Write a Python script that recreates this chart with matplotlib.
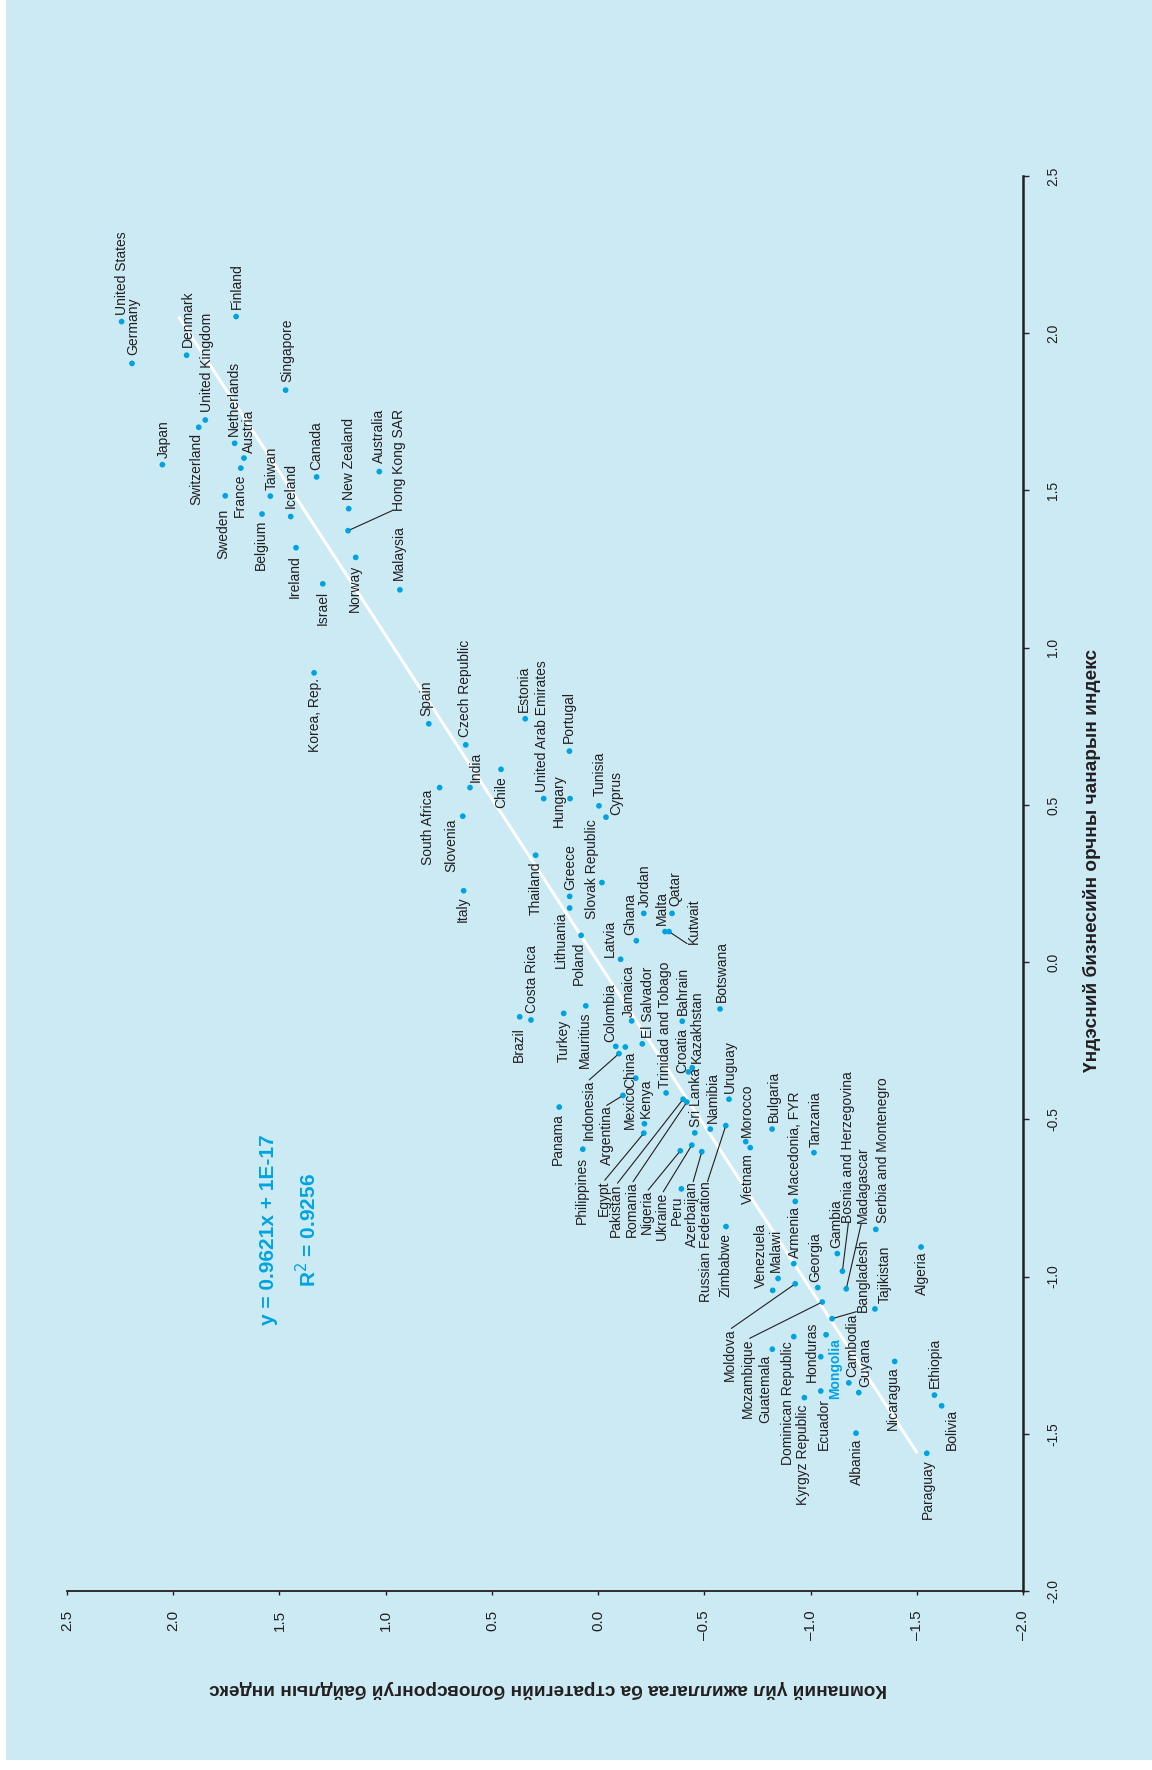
import numpy as np
import matplotlib
matplotlib.use("Agg")
import matplotlib.pyplot as plt
from matplotlib.patches import Rectangle

# ---------------- data ----------------
countries = [
    "United States", "Germany", "Denmark", "Finland", "Singapore", "United Kingdom",
    "Switzerland", "Netherlands", "Austria", "Japan", "France", "Canada", "Australia",
    "Sweden", "Taiwan", "New Zealand", "Belgium", "Iceland", "Hong Kong SAR", "Ireland",
    "Norway", "Israel", "Malaysia", "Korea, Rep.", "Spain", "Estonia", "Czech Republic",
    "Portugal", "Chile", "South Africa", "India", "United Arab Emirates", "Hungary",
    "Tunisia", "Cyprus", "Slovenia", "Thailand", "Slovak Republic", "Italy", "Greece",
    "Lithuania", "Jordan", "Qatar", "Malta", "Kutwait", "Poland", "Ghana", "Latvia",
    "Brazil", "Costa Rica", "Turkey", "Mauritius", "Jamaica", "El Salvador", "Colombia",
    "China", "Indonesia", "Bahrain", "Botswana", "Mexico", "Argentina", "Kenya",
    "Trinidad and Tobago", "Croatia", "Kazakhstan", "Pakistan", "Romania", "Sri Lanka",
    "Namibia", "Uruguay", "Russian Federation", "Egypt", "Nigeria", "Ukraine",
    "Azerbaijan", "Peru", "Morocco", "Vietnam", "Bulgaria", "Tanzania", "Macedonia, FYR",
    "Zimbabwe", "Panama", "Philippines", "Gambia", "Armenia", "Bosnia and Herzegovina",
    "Madagascar", "Bangladesh", "Tajikistan", "Serbia and Montenegro", "Algeria",
    "Georgia", "Moldova", "Mozambique", "Venezuela", "Malawi", "Dominican Republic",
    "Guatemala", "Mongolia", "Honduras", "Cambodia", "Guyana", "Ecuador",
    "Kyrgyz Republic", "Albania", "Nicaragua", "Ethiopia", "Bolivia", "Paraguay",
]

# National business environment quality index (original x axis)
business_index = [
    2.037, 1.904, 1.930, 2.053, 1.819, 1.724,
    1.701, 1.650, 1.603, 1.582, 1.571, 1.543, 1.560,
    1.483, 1.482, 1.442, 1.425, 1.417, 1.372, 1.318,
    1.287, 1.203, 1.184, 0.920, 0.758, 0.774, 0.691,
    0.671, 0.613, 0.555, 0.555, 0.520, 0.520,
    0.497, 0.461, 0.464, 0.340, 0.253, 0.227, 0.209,
    0.172, 0.155, 0.155, 0.097, 0.097, 0.085, 0.068, 0.009,
    -0.174, -0.184, -0.163, -0.139, -0.187, -0.260, -0.268,
    -0.270, -0.291, -0.188, -0.149, -0.369, -0.424, -0.514,
    -0.416, -0.349, -0.336, -0.436, -0.445, -0.543,
    -0.531, -0.436, -0.520, -0.544, -0.600, -0.582,
    -0.603, -0.721, -0.571, -0.590, -0.531, -0.606, -0.761,
    -0.841, -0.461, -0.595, -0.927, -0.959, -0.983,
    -1.039, -1.134, -1.103, -0.850, -0.906,
    -1.035, -1.023, -1.081, -1.044, -1.006, -1.191,
    -1.231, -1.185, -1.255, -1.338, -1.369, -1.364,
    -1.385, -1.498, -1.270, -1.377, -1.411, -1.562,
]

# Company operations and strategy sophistication index (original y axis)
company_index = [
    2.243, 2.194, 1.937, 1.704, 1.471, 1.849,
    1.880, 1.711, 1.667, 2.051, 1.682, 1.325, 1.030,
    1.755, 1.543, 1.174, 1.582, 1.447, 1.177, 1.422,
    1.141, 1.296, 0.933, 1.337, 0.797, 0.343, 0.623,
    0.135, 0.457, 0.746, 0.603, 0.256, 0.132,
    -0.004, -0.037, 0.637, 0.294, -0.018, 0.633, 0.134,
    0.134, -0.215, -0.348, -0.315, -0.334, 0.080, -0.180, -0.106,
    0.369, 0.316, 0.162, 0.058, -0.158, -0.208, -0.083,
    -0.128, -0.098, -0.396, -0.574, -0.177, -0.117, -0.218,
    -0.320, -0.425, -0.443, -0.400, -0.418, -0.455,
    -0.528, -0.616, -0.601, -0.215, -0.387, -0.441,
    -0.488, -0.392, -0.695, -0.716, -0.819, -1.016, -0.928,
    -0.602, 0.183, 0.072, -1.126, -0.921, -1.150,
    -1.168, -1.101, -1.303, -1.307, -1.520,
    -1.034, -0.928, -1.055, -0.822, -0.847, -0.921,
    -0.820, -1.073, -1.048, -1.180, -1.227, -1.048,
    -0.971, -1.214, -1.396, -1.583, -1.617, -1.547,
]

tick_values = [2.5, 2.0, 1.5, 1.0, 0.5, 0.0, -0.5, -1.0, -1.5, -2.0]
bottom_tick_labels = ["2.5", "2.0", "1.5", "1.0", "0.5", "0.0", "–0.5", "–1.0", "–1.5", "–2.0"]
right_tick_labels = ["2.5", "2.0", "1.5", "1.0", "0.5", "0.0", "-0.5", "-1.0", "-1.5", "-2.0"]

slope = 0.9621
intercept_text = "1E-17"
intercept = 1e-17
r_squared = 0.9256
highlight = "Mongolia"

x_label = "Үндэсний бизнесийн орчны чанарын индекс"
y_label = "Компаний үйл ажиллагаа ба стратегийн боловсронгуй байдлын индекс"

# ---------------- label placement (image pixels: dx right, dy down) ----------------
label_pos = {
    "United States": (0.6, -6.7, "left"), "Germany": (1.3, -8.3, "left"),
    "Denmark": (1, -8.6, "left"), "Finland": (0.7, -7.7, "left"),
    "United Kingdom": (2, -8.3, "left"), "Singapore": (1.6, -7.7, "left"),
    "Netherlands": (-0.7, -7.6, "left"), "Austria": (5, -5, "left"),
    "Japan": (1, -6.4, "left"), "Switzerland": (-2, 6, "right"),
    "Sweden": (-2, 13, "right"), "France": (-0.7, 5, "right"),
    "Belgium": (-1, 6, "right"), "Taiwan": (1.4, -6, "left"),
    "Iceland": (0, -8.4, "left"), "Ireland": (-1, 7.3, "right"),
    "Israel": (0, 7, "right"), "Canada": (0, -7, "left"),
    "New Zealand": (0.6, -8.7, "left"), "Norway": (-0.7, 7.7, "right"),
    "Australia": (0, -8.4, "left"), "Hong Kong SAR": (51, -20, "left"),
    "Malaysia": (-1, -9.7, "left"), "Korea, Rep.": (1, 5.6, "right"),
    "Spain": (-2, -7.7, "left"), "Czech Republic": (-0.7, -7.4, "left"),
    "Estonia": (-1.3, -7, "left"), "United Arab Emirates": (-2, -7, "left"),
    "Portugal": (-1, -7.7, "left"), "India": (6, -6, "left"),
    "Chile": (0.7, 6.7, "right"), "South Africa": (-11.4, 2.3, "right"),
    "Slovenia": (-11, 2, "right"), "Hungary": (-10.7, 2, "center"),
    "Tunisia": (0.3, -9.7, "left"), "Cyprus": (10.7, -2, "left"),
    "Thailand": (0.3, 6.4, "right"), "Greece": (0.3, -6.3, "left"),
    "Slovak Republic": (-10.3, -13.5, "center"), "Italy": (-0.4, 6, "right"),
    "Lithuania": (-8.7, 3.7, "right"), "Poland": (-2.7, 6.4, "right"),
    "Jordan": (0.6, -6.6, "left"), "Qatar": (3, -7, "left"),
    "Malta": (-3.3, -6.7, "left"), "Kutwait": (25, 12, "left"),
    "Ghana": (-6.3, -5.7, "left"), "Latvia": (-10.7, -2.6, "left"),
    "Brazil": (-0.4, 10, "right"), "Costa Rica": (0.7, -6.7, "left"),
    "Turkey": (0.3, 6.7, "right"), "Mauritius": (-0.7, 6, "right"),
    "Colombia": (-5, -4.6, "left"), "China": (4.7, 4.7, "right"),
    "Jamaica": (-2.4, -4.3, "left"), "El Salvador": (6, -5.7, "left"),
    "Indonesia": (-29.7, 26.3, "right"), "Argentina": (-16.3, 10, "right"),
    "Mexico": (-5.7, 7, "right"), "Kenya": (1.7, -5.4, "left"),
    "Trinidad and Tobago": (-1, -4.7, "left"), "Bahrain": (1, -6.7, "left"),
    "Croatia": (-6.6, 1.6, "left"), "Kazakhstan": (4.4, -4.4, "left"),
    "Botswana": (1.7, -7.3, "left"), "Sri Lanka": (1.3, -6, "left"),
    "Namibia": (2.4, -5.7, "left"), "Uruguay": (1, -6, "left"),
    "Morocco": (1.6, -5, "left"), "Bulgaria": (2, -7.3, "left"),
    "Macedonia, FYR": (-0.3, -6.3, "left"), "Tanzania": (1.7, -6, "left"),
    "Panama": (-1, 6, "right"), "Philippines": (-1, 7.4, "right"),
    "Egypt": (-40.4, 47, "right"), "Pakistan": (-67, 84, "right"),
    "Romania": (-55.3, 79.7, "right"), "Nigeria": (-33.6, 39.3, "right"),
    "Ukraine": (-30, 46.7, "right"), "Peru": (-4.6, 6.3, "right"),
    "Azerbaijan": (-10, 30, "right"), "Russian Federation": (-19.7, 56, "right"),
    "Zimbabwe": (-1, 6.6, "right"), "Vietnam": (-2, 5.6, "right"),
    "Venezuela": (-11.7, -2, "left"), "Malawi": (-2, -6.6, "left"),
    "Armenia": (1.3, -5.4, "left"), "Georgia": (-2.7, -6, "left"),
    "Gambia": (-1.3, -5.4, "left"), "Bosnia and Herzegovina": (6, -48.6, "left"),
    "Madagascar": (16.4, -65.4, "left"), "Serbia and Montenegro": (7, -6, "left"),
    "Bangladesh": (31.3, -7, "left"), "Tajikistan": (10, -5.7, "left"),
    "Algeria": (0.7, 4.7, "right"), "Moldova": (-65.3, 44.6, "right"),
    "Mozambique": (-74, 36.3, "right"), "Guatemala": (-7.3, 5.7, "right"),
    "Dominican Republic": (-5.4, 5, "right"), "Kyrgyz Republic": (-1, 7.3, "right"),
    "Honduras": (-9, -5, "center"), "Ecuador": (3.3, 7.3, "right"),
    "Mongolia": (9, 3.6, "right"), "Cambodia": (3, -5.4, "left"),
    "Guyana": (6.3, -5.4, "left"), "Albania": (0.7, 5.3, "right"),
    "Nicaragua": (-1.4, 5.4, "right"), "Ethiopia": (0.7, -6.7, "left"),
    "Bolivia": (10, 2.6, "right"), "Paraguay": (1.6, 6, "right"),
}
# leader lines: relative start point on label bbox
leaders = {
    "Hong Kong SAR": (0.0, 0.0), "Kutwait": (0.0, 0.0),
    "Indonesia": (0.5, 1.0), "Argentina": (0.5, 1.0), "Egypt": (0.6, 1.0),
    "Pakistan": (0.6, 1.0), "Romania": (0.6, 1.0), "Nigeria": (0.6, 1.0),
    "Ukraine": (0.6, 1.0), "Azerbaijan": (0.6, 1.0), "Russian Federation": (0.6, 1.0),
    "Bosnia and Herzegovina": (0.5, 0.0), "Madagascar": (0.4, 0.0),
    "Bangladesh": (0.0, 0.0), "Moldova": (0.6, 1.0), "Mozambique": (0.6, 1.0),
}

# ---------------- style ----------------
FAM = ["Liberation Sans", "DejaVu Sans"]
plt.rcParams["font.family"] = FAM
BG = "#CCEAF3"
BLUE = "#00A3E0"
INK = "#231F20"

fig = plt.figure(figsize=(11.52, 17.70), dpi=100, facecolor="white")
fig.patches.append(Rectangle((6 / 1152, 10 / 1770), 1 - 6 / 1152, 1 - 10 / 1770,
                             transform=fig.transFigure, facecolor=BG, edgecolor="none",
                             zorder=-10))

ax = fig.add_axes([67 / 1152, 1 - 1591 / 1770, (1023 - 67) / 1152, (1591 - 176) / 1770])
ax.set_facecolor("none")
ax.set_xlim(2.5, -2.0)
ax.set_ylim(-2.0, 2.5)

for s in ("left", "top"):
    ax.spines[s].set_visible(False)
ax.spines["bottom"].set_linewidth(1.3)
ax.spines["bottom"].set_color(INK)
ax.spines["right"].set_linewidth(1.8)
ax.spines["right"].set_color(INK)

ax.yaxis.tick_right()
ax.set_xticks(tick_values)
ax.set_xticklabels(bottom_tick_labels, rotation=90, fontsize=11, color=INK)
ax.set_yticks(tick_values)
ax.set_yticklabels(right_tick_labels, rotation=90, fontsize=10, color=INK, va="center")
ax.tick_params(axis="x", direction="out", length=3.2, width=1.0, pad=10.5, colors=INK)
ax.tick_params(axis="y", direction="out", length=4.2, width=1.0, pad=12.5, colors=INK)

# regression line
b = np.array(business_index)
c = np.array(company_index)
bl = np.array([b.min(), b.max()])
ax.plot(slope * bl + intercept, bl, color="white", lw=2.2, zorder=2, solid_capstyle="butt")

# points
ax.scatter(c, b, s=17, color=BLUE, edgecolors="none", zorder=3)

# labels
for name, bx, cy in zip(countries, business_index, company_index):
    dx, dy, ha = label_pos[name]
    is_hl = name == highlight
    kw = dict(xy=(cy, bx), xycoords="data", xytext=(dx, -dy), textcoords="offset pixels",
              rotation=90, rotation_mode="anchor", ha=ha, va="center",
              fontsize=10, color=BLUE if is_hl else INK,
              fontweight="bold" if is_hl else "normal", zorder=4)
    if name in leaders:
        kw["arrowprops"] = dict(arrowstyle="-", color=INK, lw=0.8, shrinkA=0, shrinkB=2,
                                patchA=None, relpos=leaders[name])
    ax.annotate(name, **kw)

# regression equation
fig.text(269 / 1152, 1 - 1230 / 1770, f"y = {slope}x + {intercept_text}", rotation=90,
         ha="center", va="center", fontsize=15, fontweight="bold", color=BLUE)
fig.text(308 / 1152, 1 - 1230 / 1770, f"R$^2$ = {r_squared}", rotation=90,
         ha="center", va="center", fontsize=15, fontweight="bold", color=BLUE)

# axis titles
fig.text(1092 / 1152, 1 - 860 / 1770, x_label, rotation=90, ha="center", va="center",
         fontsize=13.7, fontweight="bold", color=INK)
fig.text(548 / 1152, 1 - 1689 / 1770, y_label, rotation=180, ha="center", va="center",
         fontsize=13.7, fontweight="bold", color=INK)

fig.savefig("out.png", dpi=100, facecolor="white")
